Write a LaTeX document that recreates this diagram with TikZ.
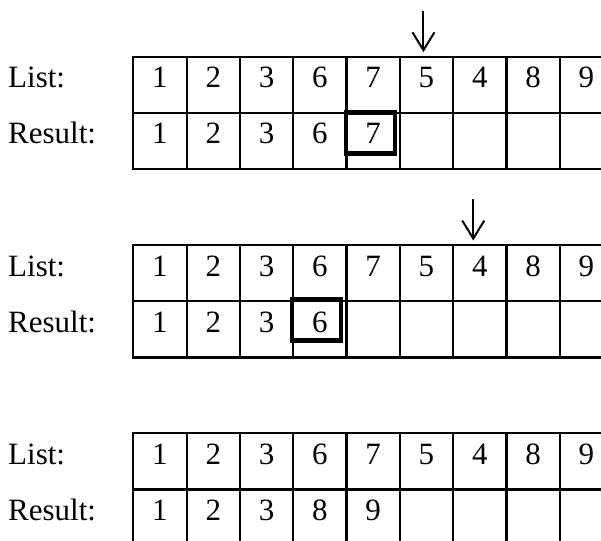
\documentclass[tikz,border=0pt]{standalone}
\usepackage{fontspec}
\setmainfont{Liberation Serif}
\usetikzlibrary{arrows.meta, positioning}

\begin{document}
\begin{tikzpicture}[x=1pt, y=-1pt,
    >={Straight Barb[length=18pt, width=22pt]},
    cell/.style={rectangle, draw, line width=2.2pt, inner sep=0pt, minimum width=53.3pt,
                 text height=31pt, text depth=25.2pt, font=\fontsize{31}{34}\selectfont},
    lbl/.style={inner sep=0pt, anchor=base west, font=\fontsize{31}{34}\selectfont},
    pick/.style={rectangle, draw, line width=4.5pt, minimum width=49pt, minimum height=41pt,
                 inner sep=0pt, anchor=north},
    ptr/.style={->, line width=2pt, shorten >=3.4pt}]

    \useasboundingbox (0,0) rectangle (601,540);
    \clip (0,0) rectangle (601,540);

    % Step 1
    \foreach \v [count=\i] in {1,2,3,6,7,5,4,8,9}
        \node[cell] (a-l\i) at (106.65+53.3*\i, 84.8) {\v};
    \foreach \v [count=\i] in {1,2,3,6,7,{},{},{},{}}
        \node[cell] (a-r\i) at (106.65+53.3*\i, 141.0) {\v};
    \node[lbl] (a-list) at (a-l1.base -| 8,0) {List:};
    \node[lbl] (a-res) at (a-r1.base -| 8,0) {Result:};
    \node[pick, xshift=-2.5pt, yshift=1.5pt] (a-pick) at (a-r5.north) {};
    \coordinate[above=45pt of a-l6.north, xshift=-3pt] (a-top);
    \draw[ptr] (a-top) -- (a-top |- a-l6.north);

    % Step 2
    \foreach \v [count=\i] in {1,2,3,6,7,5,4,8,9}
        \node[cell] (b-l\i) at (106.65+53.3*\i, 273.1) {\v};
    \foreach \v [count=\i] in {1,2,3,6,{},{},{},{},{}}
        \node[cell] (b-r\i) at (106.65+53.3*\i, 329.3) {\v};
    \node[lbl] (b-list) at (b-l1.base -| 8,0) {List:};
    \node[lbl] (b-res) at (b-r1.base -| 8,0) {Result:};
    \node[pick, xshift=-3.5pt, yshift=3pt] (b-pick) at (b-r4.north) {};
    \coordinate[above=45pt of b-l7.north, xshift=-6.5pt] (b-top);
    \draw[ptr] (b-top) -- (b-top |- b-l7.north);

    % Step 3
    \foreach \v [count=\i] in {1,2,3,6,7,5,4,8,9}
        \node[cell] (c-l\i) at (106.65+53.3*\i, 461.4) {\v};
    \foreach \v [count=\i] in {1,2,3,8,9,{},{},{},{}}
        \node[cell] (c-r\i) at (106.65+53.3*\i, 517.6) {\v};
    \node[lbl] (c-list) at (c-l1.base -| 8,0) {List:};
    \node[lbl] (c-res) at (c-r1.base -| 8,0) {Result:};

\end{tikzpicture}
\end{document}
